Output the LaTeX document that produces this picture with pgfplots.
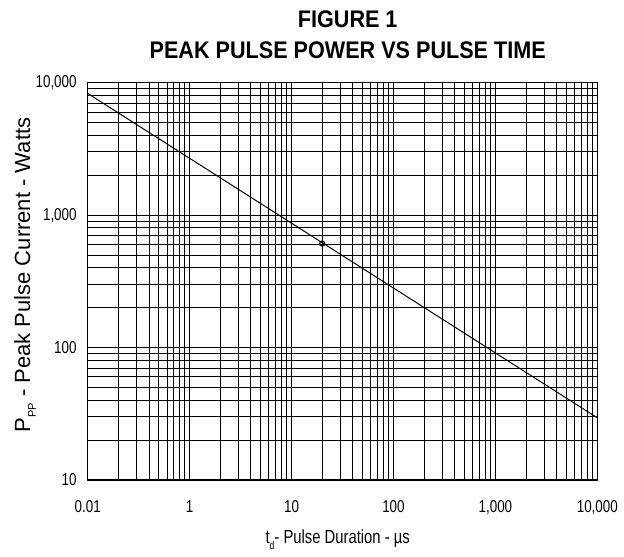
\documentclass[border=0pt]{standalone}
\usepackage{fontspec}
\setmainfont{Liberation Sans}
\newfontfamily\narrowfont[FakeStretch=0.78]{Liberation Sans}
\newfontfamily\titlefont[FakeStretch=0.9]{Liberation Sans Bold}
\usepackage{pgfplots}
\pgfplotsset{compat=1.18}

\begin{document}
\begin{tikzpicture}
% 1 px of the reference = 0.5pt, plot box lower left at (0,0)
\useasboundingbox (-43.85pt,-38pt) rectangle (268.15pt,240pt);
\begin{loglogaxis}[
  at={(0,0)}, anchor=south west, scale only axis,
  width=254.8pt, height=198.65pt,
  xmin=0.1, xmax=10000,
  ymin=10, ymax=10000,
  xtick={0.1,1,10,100,1000,10000},
  xticklabels={0.01,1,10,100,{1,000},{10,000}},
  ytick={10,100,1000,10000},
  yticklabels={10,100,{1,000},{10,000}},
  minor xtick={0.2,0.3,0.4,0.5,0.6,0.7,0.8,0.9,
    2,3,4,5,6,7,8,9,20,30,40,50,60,70,80,90,
    200,300,400,500,600,700,800,900,
    2000,3000,4000,5000,6000,7000,8000,9000},
  minor ytick={20,30,40,50,60,70,80,90,
    200,300,400,500,600,700,800,900,
    2000,3000,4000,5000,6000,7000,8000,9000},
  grid=both,
  major grid style={black, line width=0.5pt},
  minor grid style={black, line width=0.5pt},
  major tick length=0pt, minor tick length=0pt,
  axis line style={black, line width=0.6pt},
  ticklabel style={font=\narrowfont\fontsize{8.6}{9}\selectfont},
  xticklabel style={yshift=-6pt, text height=6.5pt, text depth=1.5pt},
  yticklabel style={xshift=-2pt},
]
\addplot[black, line width=0.5pt] coordinates {(0.1,8300) (10000,29.5)};
\addplot[black, only marks, mark=o, mark size=1.3pt, mark options={line width=0.6pt}] coordinates {(20,610)};
\end{loglogaxis}
\node[font=\titlefont\fontsize{12}{13}\selectfont] at (130pt,230.5pt) {FIGURE 1};
\node[font=\titlefont\fontsize{12}{13}\selectfont] at (130pt,215pt) {PEAK PULSE POWER VS PULSE TIME};
\node[rotate=90, font=\fontsize{11}{12}\selectfont] at (-31.35pt,102.5pt)
  {P\raisebox{-0.5ex}{\fontsize{5.5}{5.5}\selectfont PP} - Peak Pulse Current - Watts};
\node[font=\narrowfont\fontsize{9.5}{10}\selectfont] at (125pt,-30pt)
  {t\raisebox{-0.6ex}{\fontsize{5.5}{5.5}\selectfont d}- Pulse Duration - µs};
\end{tikzpicture}
\end{document}
